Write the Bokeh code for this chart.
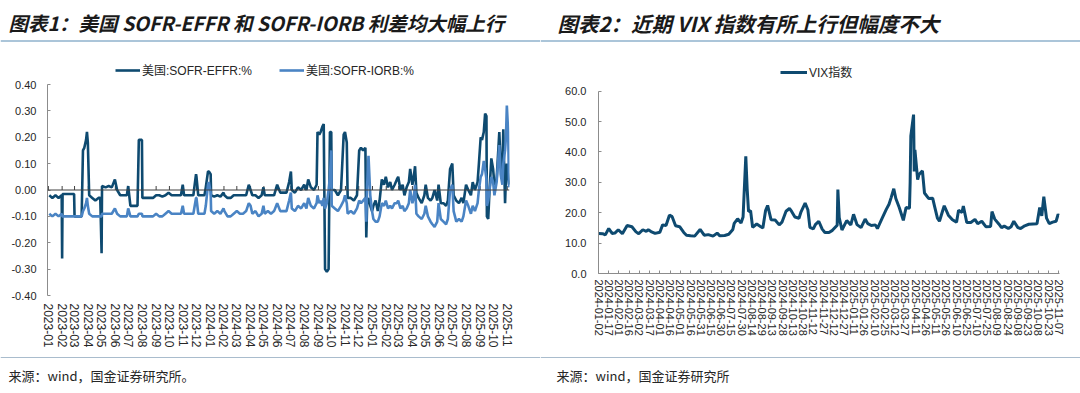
import pandas as pd
from bokeh.plotting import figure
from bokeh.models import (ColumnDataSource, DatetimeTickFormatter, FixedTicker, Span,
                          Label, BoxAnnotation, Legend, LegendItem, Range1d, NumeralTickFormatter)
from bokeh.layouts import row, column
from bokeh.core.properties import value
from bokeh.embed import file_html
from bokeh.resources import INLINE

# ---------------- data: chart 1 (SOFR-EFFR / SOFR-IORB, %) ----------------
spread_dates = [
    "2023-01-03", "2023-01-10", "2023-01-17", "2023-01-24", "2023-01-31",
    "2023-02-01", "2023-02-02", "2023-02-09", "2023-02-16", "2023-02-23", "2023-02-28",
    "2023-03-01", "2023-03-08", "2023-03-17", "2023-03-20", "2023-03-23", "2023-03-27", "2023-03-29", "2023-03-31",
    "2023-04-03", "2023-04-10", "2023-04-17", "2023-04-24", "2023-04-28",
    "2023-05-01", "2023-05-02", "2023-05-10", "2023-05-17", "2023-05-24", "2023-05-31",
    "2023-06-05", "2023-06-12", "2023-06-20", "2023-06-27", "2023-06-30",
    "2023-07-05", "2023-07-12", "2023-07-21", "2023-07-24", "2023-07-31",
    "2023-08-01", "2023-08-10", "2023-08-18", "2023-08-25",
    "2023-09-01", "2023-09-08", "2023-09-15", "2023-09-22", "2023-09-29",
    "2023-10-06", "2023-10-13", "2023-10-20", "2023-10-27", "2023-10-31",
    "2023-11-03", "2023-11-10", "2023-11-17", "2023-11-24", "2023-11-30",
    "2023-12-01", "2023-12-05", "2023-12-12", "2023-12-19", "2023-12-22", "2023-12-27", "2023-12-29",
    "2024-01-02", "2024-01-03", "2024-01-10", "2024-01-17", "2024-01-24", "2024-01-31",
    "2024-02-02", "2024-02-09", "2024-02-16", "2024-02-23",
    "2024-03-01", "2024-03-08", "2024-03-15", "2024-03-22", "2024-03-28",
    "2024-04-01", "2024-04-05", "2024-04-12", "2024-04-19", "2024-04-26", "2024-04-30",
    "2024-05-03", "2024-05-10", "2024-05-17", "2024-05-24", "2024-05-31",
    "2024-06-07", "2024-06-14", "2024-06-21", "2024-06-27",
    "2024-07-01", "2024-07-03", "2024-07-10", "2024-07-17", "2024-07-24", "2024-07-31",
    "2024-08-05", "2024-08-09", "2024-08-15", "2024-08-22", "2024-08-28", "2024-08-30",
    "2024-09-03", "2024-09-06", "2024-09-10", "2024-09-13", "2024-09-16", "2024-09-20", "2024-09-24", "2024-09-27", "2024-09-30",
    "2024-10-01", "2024-10-08", "2024-10-15", "2024-10-22", "2024-10-28", "2024-10-31",
    "2024-11-04", "2024-11-06", "2024-11-13", "2024-11-20", "2024-11-27",
    "2024-12-02", "2024-12-06", "2024-12-11", "2024-12-16", "2024-12-18", "2024-12-20", "2024-12-23", "2024-12-27", "2024-12-31",
    "2025-01-03", "2025-01-08", "2025-01-13", "2025-01-17", "2025-01-22", "2025-01-27", "2025-01-31",
    "2025-02-05", "2025-02-10", "2025-02-14", "2025-02-20", "2025-02-25", "2025-02-28",
    "2025-03-05", "2025-03-10", "2025-03-14", "2025-03-19", "2025-03-24", "2025-03-27",
    "2025-04-01", "2025-04-04", "2025-04-07", "2025-04-10", "2025-04-15", "2025-04-22", "2025-04-28",
    "2025-05-01", "2025-05-06", "2025-05-12", "2025-05-16", "2025-05-21", "2025-05-27", "2025-05-30",
    "2025-06-04", "2025-06-10", "2025-06-16", "2025-06-20", "2025-06-25", "2025-06-30",
    "2025-07-03", "2025-07-09", "2025-07-15", "2025-07-21", "2025-07-25", "2025-07-31",
    "2025-08-05", "2025-08-11", "2025-08-15", "2025-08-20", "2025-08-26", "2025-08-29",
    "2025-09-02", "2025-09-05", "2025-09-09", "2025-09-12", "2025-09-15", "2025-09-16", "2025-09-19", "2025-09-22", "2025-09-26", "2025-09-30",
    "2025-10-03", "2025-10-08", "2025-10-14", "2025-10-17", "2025-10-21", "2025-10-23", "2025-10-27", "2025-10-29", "2025-10-31",
    "2025-11-03", "2025-11-05",
]
sofr_effr = [
    -0.02, -0.03, -0.02, -0.03, -0.02,
    -0.26, -0.015, -0.015, -0.015, -0.015, -0.015,
    -0.10, -0.10, -0.10, 0.15, 0.16, 0.19, 0.22, 0.18,
    -0.02, -0.03, -0.04, -0.03, -0.03,
    -0.24, 0.015, 0.01, 0.015, 0.01, 0.04,
    0.0, -0.02, -0.02, -0.02, 0.015,
    -0.06, -0.06, -0.06, 0.19, 0.19,
    -0.03, -0.03, -0.03, -0.03,
    -0.02, -0.02, -0.025, -0.02, -0.01,
    -0.02, -0.02, -0.02, -0.02, 0.02,
    -0.02, -0.02, -0.02, -0.02, 0.06,
    0.05, -0.02, -0.02, -0.02, 0.01, 0.07, 0.07,
    0.06, -0.02, -0.025, -0.02, -0.025, -0.01,
    -0.02, -0.03, -0.03, -0.02,
    -0.02, -0.02, -0.02, -0.02, 0.02,
    0.0, -0.02, -0.02, -0.03, -0.02, 0.01,
    -0.02, -0.02, -0.02, -0.02, 0.02,
    -0.01, -0.01, -0.01, 0.03,
    0.07, 0.0, -0.01, 0.01, 0.0, 0.02,
    0.0, 0.04, 0.01, 0.0, 0.02, 0.22,
    0.21, 0.22, 0.24, 0.25, -0.30, -0.31, -0.30, 0.22, 0.22,
    0.0, 0.0, -0.02, 0.0, 0.21, 0.22,
    0.18, -0.03, -0.03, -0.04, -0.02,
    0.15, 0.16, 0.15, 0.16, -0.18, -0.05, -0.03, -0.06, -0.08,
    -0.06, -0.04, -0.08, -0.04, 0.04, 0.02, 0.05,
    0.01, 0.03, 0.0, 0.02, 0.04, 0.05,
    0.0, 0.02, -0.02, 0.01, 0.03, 0.08,
    0.02, 0.05, 0.09, -0.01, -0.03, -0.05, -0.02,
    0.02, -0.03, -0.04, -0.03, 0.0, -0.04, 0.02,
    -0.05, -0.05, -0.06, -0.04, 0.08, 0.10,
    -0.02, -0.04, -0.05, -0.03, -0.05, 0.02,
    0.0, -0.02, 0.03, 0.0, 0.03, 0.10,
    0.20, 0.19, 0.22, 0.29, 0.28, -0.10, -0.11, 0.0, 0.12, 0.08,
    0.02, 0.04, 0.22, 0.10, 0.06, 0.23, -0.05, 0.05, 0.10,
    0.05, 0.02,
]
sofr_iorb = [
    -0.09, -0.10, -0.09, -0.10, -0.09,
    -0.10, -0.10, -0.10, -0.10, -0.10, -0.10,
    -0.10, -0.10, -0.10, -0.08, -0.07, -0.05, -0.03, -0.06,
    -0.09, -0.10, -0.10, -0.10, -0.10,
    -0.10, -0.09, -0.09, -0.09, -0.09, -0.07,
    -0.09, -0.10, -0.10, -0.10, -0.07,
    -0.10, -0.10, -0.10, -0.09, -0.09,
    -0.10, -0.10, -0.10, -0.10,
    -0.09, -0.10, -0.10, -0.09, -0.08,
    -0.09, -0.09, -0.09, -0.09, -0.06,
    -0.09, -0.09, -0.09, -0.09, -0.03,
    -0.03, -0.09, -0.09, -0.09, -0.06, 0.02, 0.03,
    -0.01, -0.08, -0.09, -0.08, -0.09, -0.07,
    -0.08, -0.10, -0.10, -0.09,
    -0.08, -0.09, -0.09, -0.08, -0.05,
    -0.06, -0.09, -0.08, -0.10, -0.09, -0.06,
    -0.09, -0.08, -0.09, -0.08, -0.05,
    -0.08, -0.08, -0.08, -0.04,
    -0.01, -0.07, -0.08, -0.06, -0.07, -0.05,
    -0.07, -0.03, -0.06, -0.07, -0.05, -0.02,
    -0.05, -0.04, -0.06, -0.03, -0.07, -0.05, 0.0, 0.05, 0.15,
    -0.06, -0.07, -0.08, -0.06, -0.04, -0.02,
    -0.05, -0.09, -0.08, -0.09, -0.07,
    -0.04, -0.05, -0.04, -0.03, -0.12, 0.02, 0.13, -0.02, -0.08,
    -0.11, -0.12, -0.12, -0.10, -0.05, -0.06, -0.04,
    -0.07, -0.06, -0.07, -0.05, -0.05, -0.04,
    -0.07, -0.06, -0.08, -0.07, -0.05, 0.0,
    -0.05, -0.03, 0.02, -0.09, -0.10, -0.11, -0.09,
    -0.06, -0.10, -0.12, -0.13, -0.14, -0.12, -0.05,
    -0.11, -0.12, -0.13, -0.11, 0.0, 0.02,
    -0.08, -0.12, -0.11, -0.12, -0.10, -0.04,
    -0.06, -0.09, -0.06, -0.08, -0.05, 0.0,
    0.05, 0.06, 0.11, 0.08, 0.04, -0.06, -0.04, 0.0, 0.05, 0.03,
    -0.02, 0.03, 0.17, 0.06, 0.02, 0.10, 0.15, 0.20, 0.32,
    0.22, 0.01,
]
spread_y_ticks = [-0.4, -0.3, -0.2, -0.1, 0.0, 0.1, 0.2, 0.3, 0.4]

# ---------------- data: chart 2 (VIX) ----------------
vix_dates = [
    "2024-01-02", "2024-01-08", "2024-01-12", "2024-01-17", "2024-01-22", "2024-01-26", "2024-01-31",
    "2024-02-06", "2024-02-13", "2024-02-20", "2024-02-26",
    "2024-03-01", "2024-03-07", "2024-03-12", "2024-03-15", "2024-03-19", "2024-03-25",
    "2024-04-01", "2024-04-05", "2024-04-10", "2024-04-15", "2024-04-19", "2024-04-24", "2024-04-30",
    "2024-05-06", "2024-05-10", "2024-05-16", "2024-05-22", "2024-05-30",
    "2024-06-05", "2024-06-11", "2024-06-18", "2024-06-24", "2024-06-28",
    "2024-07-05", "2024-07-11", "2024-07-17", "2024-07-19", "2024-07-24", "2024-07-29",
    "2024-08-01", "2024-08-05", "2024-08-07", "2024-08-09", "2024-08-12", "2024-08-15", "2024-08-21", "2024-08-27", "2024-08-30",
    "2024-09-03", "2024-09-06", "2024-09-11", "2024-09-17", "2024-09-23", "2024-09-27",
    "2024-10-03", "2024-10-08", "2024-10-11", "2024-10-16", "2024-10-22", "2024-10-25", "2024-10-31",
    "2024-11-04", "2024-11-07", "2024-11-12", "2024-11-15", "2024-11-20", "2024-11-25", "2024-11-29",
    "2024-12-05", "2024-12-10", "2024-12-17", "2024-12-18", "2024-12-20", "2024-12-24", "2024-12-31",
    "2025-01-06", "2025-01-10", "2025-01-15", "2025-01-21", "2025-01-27", "2025-01-31",
    "2025-02-05", "2025-02-11", "2025-02-14", "2025-02-21", "2025-02-27",
    "2025-03-03", "2025-03-06", "2025-03-10", "2025-03-13", "2025-03-18", "2025-03-24", "2025-03-28",
    "2025-04-02", "2025-04-03", "2025-04-04", "2025-04-08", "2025-04-09", "2025-04-10", "2025-04-14", "2025-04-16",
    "2025-04-21", "2025-04-24", "2025-04-30",
    "2025-05-06", "2025-05-09", "2025-05-13", "2025-05-16", "2025-05-21", "2025-05-23", "2025-05-29",
    "2025-06-04", "2025-06-10", "2025-06-13", "2025-06-18", "2025-06-20", "2025-06-25",
    "2025-07-01", "2025-07-07", "2025-07-11", "2025-07-17", "2025-07-23", "2025-07-30",
    "2025-08-01", "2025-08-05", "2025-08-11", "2025-08-15", "2025-08-19", "2025-08-25", "2025-08-29",
    "2025-09-02", "2025-09-08", "2025-09-12", "2025-09-18", "2025-09-24", "2025-09-30",
    "2025-10-06", "2025-10-10", "2025-10-13", "2025-10-16", "2025-10-20", "2025-10-24", "2025-10-29",
    "2025-11-03", "2025-11-06", "2025-11-07",
]
vix_values = [
    13.2, 13.1, 12.7, 14.8, 13.2, 13.3, 14.4,
    13.1, 15.8, 15.4, 13.7,
    13.1, 14.4, 13.9, 14.4, 13.8, 13.2,
    13.6, 16.0, 15.8, 19.2, 18.7, 15.7, 15.4,
    13.5, 12.6, 12.4, 12.3, 14.5,
    12.6, 12.8, 12.3, 13.3, 12.4,
    12.5, 12.9, 14.5, 16.5, 18.0, 16.6,
    18.6, 38.6, 27.9, 20.4, 20.7, 15.2, 16.3, 15.4, 15.0,
    20.7, 22.4, 17.7, 17.6, 16.0, 16.9,
    20.5, 21.4, 20.5, 18.6, 18.2, 20.3, 23.2,
    21.0, 15.2, 14.7, 16.1, 17.2, 14.6, 13.5,
    13.5, 14.2, 15.9, 27.6, 18.4, 14.3, 17.4,
    16.0, 19.5, 16.1, 15.1, 17.9, 16.4,
    15.8, 16.0, 14.8, 18.2, 21.1,
    22.8, 24.9, 27.9, 24.7, 21.7, 17.5, 21.7,
    21.5, 30.0, 45.3, 52.3, 33.6, 40.7, 30.9, 32.6,
    33.8, 26.5, 24.7,
    24.8, 21.9, 18.2, 17.2, 20.9, 22.3, 19.2,
    17.7, 16.9, 20.8, 20.1, 22.2, 16.8,
    16.8, 17.8, 16.4, 17.2, 15.4, 15.5,
    20.4, 17.9, 16.3, 15.1, 15.6, 14.8, 15.4,
    17.2, 15.1, 14.8, 15.7, 16.2, 16.3,
    16.4, 21.7, 19.0, 25.3, 18.2, 16.4, 16.9,
    17.2, 19.5, 19.1,
]
vix_y_ticks = [0, 10, 20, 30, 40, 50, 60]

assert len(spread_dates) == len(sofr_effr) == len(sofr_iorb)
assert len(vix_dates) == len(vix_values)

# ---------------- style / geometry ----------------
DARK = "#0e4a70"
LIGHT = "#4a84c4"
AXIS_GRAY = "#8c8c8c"
TEXT = "#262626"
SEP = "#8fb2cc"
CJK = "Noto Sans CJK SC"
LAT = "Liberation Sans, Noto Sans CJK SC"
W = 540                    # width of each half
TH, MH, BH = 44, 311, 38   # heights: title band, chart band, source band


def all_formats(fmt):
    return DatetimeTickFormatter(microseconds=fmt, milliseconds=fmt, seconds=fmt, minsec=fmt, minutes=fmt,
                                 hourmin=fmt, hours=fmt, days=fmt, months=fmt, years=fmt)


def to_ms(dates):
    return [int((pd.Timestamp(d) - pd.Timestamp("1970-01-01")) // pd.Timedelta(milliseconds=1)) for d in dates]


def band(height):
    b = figure(width=W, height=height, x_range=Range1d(0, W), y_range=Range1d(height, 0),
               x_axis_type=None, y_axis_type=None, output_backend="svg", toolbar_location=None,
               min_border=0, min_border_left=0, min_border_right=0, min_border_top=0, min_border_bottom=0)
    b.outline_line_color = None
    b.grid.visible = False
    return b


def band_text(b, x, y, text, size, style, color):
    b.add_layout(Label(x=x, y=y, text=text, text_font=CJK, text_font_size=size, text_font_style=style,
                       text_color=color, text_baseline="middle", text_align="left"))


def band_rule(b, y, thick, color):
    b.add_layout(BoxAnnotation(left=0, right=W, top=y - thick / 2, bottom=y + thick / 2,
                               fill_color=color, fill_alpha=1, line_color=None))


def style_axis(ax, standoff, size="11px", line=AXIS_GRAY):
    ax.axis_line_color = line
    ax.major_tick_line_color = line
    ax.major_tick_in = 3
    ax.major_tick_out = 0
    ax.minor_tick_line_color = None
    ax.major_label_standoff = standoff
    ax.major_label_text_font = "Liberation Sans"
    ax.major_label_text_font_size = size
    ax.major_label_text_color = TEXT


# ---------------- title bands ----------------
t1 = band(TH)
band_text(t1, 8, 22, "图表1：美国 SOFR-EFFR 和 SOFR-IORB 利差均大幅上行", "19.5px", "bold italic", "#1a1a1a")
band_rule(t1, 40.5, 1.6, SEP)
t2 = band(TH)
band_text(t2, 17, 22, "图表2：近期 VIX 指数有所上行但幅度不大", "20.5px", "bold italic", "#1a1a1a")
band_rule(t2, 40.5, 1.6, SEP)

# ---------------- source bands ----------------
s1 = band(BH)
band_rule(s1, 2, 1.2, "#a9bccd")
band_text(s1, 8, 20, "来源：wind，国金证券研究所。", "13px", "normal", TEXT)
s2 = band(BH)
band_rule(s2, 2, 1.2, "#a9bccd")
band_text(s2, 16, 20, "来源：wind，国金证券研究所", "13px", "normal", TEXT)

# ---------------- chart 1 ----------------
src1 = ColumnDataSource(data=dict(date=pd.to_datetime(spread_dates), effr=sofr_effr, iorb=sofr_iorb))
month_list = pd.date_range("2023-01-01", "2025-11-01", freq="MS")
month_ticks = to_ms(month_list)

PX1 = 0.8 / 211                 # data units per pixel (0.80 spans 211 px)
FH1 = 251                       # frame: from the band top down to the -0.40 line
B1 = MH - FH1                   # bottom border holding the date labels
y_top1 = -0.4 + FH1 * PX1       # frame runs on above 0.40 to hold the legend

p1 = figure(width=W, height=MH, x_axis_type="datetime", output_backend="svg", toolbar_location=None,
            x_range=Range1d(pd.Timestamp("2022-12-30"), pd.Timestamp("2025-11-06")),
            y_range=Range1d(-0.4, y_top1),
            min_border_left=47, min_border_right=31, min_border_top=0, min_border_bottom=B1)
p1.outline_line_color = None
p1.grid.visible = False

# zero line with small inward month ticks (the category axis of the original)
p1.add_layout(Span(location=0, dimension="width", line_color="#404040", line_width=1))
tick_src = ColumnDataSource(data=dict(x=month_list, y0=[0.0] * len(month_list), y1=[4 * PX1] * len(month_list)))
p1.segment(x0="x", y0="y0", x1="x", y1="y1", source=tick_src, line_color="#404040", line_width=1)

r_effr = p1.line("date", "effr", source=src1, line_color=DARK, line_width=2.6)
r_iorb = p1.line("date", "iorb", source=src1, line_color=LIGHT, line_width=2.6)

xa = p1.xaxis[0]
xa.ticker = FixedTicker(ticks=month_ticks)
xa.formatter = all_formats("%Y-%m")
style_axis(xa, 8, "12px")
xa.axis_line_color = None
xa.major_tick_line_color = None
xa.major_label_orientation = "vertical"

ya = p1.yaxis[0]
ya.ticker = FixedTicker(ticks=spread_y_ticks)
ya.formatter = NumeralTickFormatter(format="0.00")
ya.bounds = (-0.4, 0.4)
style_axis(ya, 11)

leg1 = Legend(items=[LegendItem(label=value("美国:SOFR-EFFR:%"), renderers=[r_effr]),
                     LegendItem(label=value("美国:SOFR-IORB:%"), renderers=[r_iorb])],
              orientation="horizontal", location=(68, 217), border_line_color=None, background_fill_alpha=0,
              padding=0, margin=0, spacing=27, glyph_width=25, glyph_height=16, label_height=16,
              label_standoff=2, label_text_font=LAT, label_text_font_size="12px", label_text_color=TEXT)
p1.add_layout(leg1)

# ---------------- chart 2 ----------------
src2 = ColumnDataSource(data=dict(date=pd.to_datetime(vix_dates), vix=vix_values))
day_ticks = to_ms(pd.date_range("2024-01-02", "2025-11-07", freq="15D"))

FH2 = 229
B2 = MH - FH2
y_top2 = FH2 * 60 / 182.3

p2 = figure(width=W, height=MH, x_axis_type="datetime", output_backend="svg", toolbar_location=None,
            x_range=Range1d(pd.Timestamp("2024-01-02"), pd.Timestamp("2025-11-08")),
            y_range=Range1d(0, y_top2),
            min_border_left=58, min_border_right=21, min_border_top=0, min_border_bottom=B2)
p2.outline_line_color = None
p2.grid.visible = False

r_vix = p2.line("date", "vix", source=src2, line_color=DARK, line_width=3)

xb = p2.xaxis[0]
xb.ticker = FixedTicker(ticks=day_ticks)
xb.formatter = all_formats("%Y-%m-%d")
style_axis(xb, 6)
xb.major_label_orientation = "vertical"

yb = p2.yaxis[0]
yb.ticker = FixedTicker(ticks=vix_y_ticks)
yb.formatter = NumeralTickFormatter(format="0.0")
yb.bounds = (0, 60)
style_axis(yb, 12)

leg2 = Legend(items=[LegendItem(label=value("VIX指数"), renderers=[r_vix])],
              orientation="horizontal", location=(182, 193), border_line_color=None, background_fill_alpha=0,
              padding=0, margin=0, spacing=0, glyph_width=27, glyph_height=16, label_height=16,
              label_standoff=2, label_text_font=LAT, label_text_font_size="12px", label_text_color=TEXT)
p2.add_layout(leg2)

# each chart wrapped on its own so the row does not line their frames up
layout = column(row(t1, t2), row(column(p1), column(p2)), row(s1, s2))
open("out.html", "w").write(file_html(layout, INLINE))
